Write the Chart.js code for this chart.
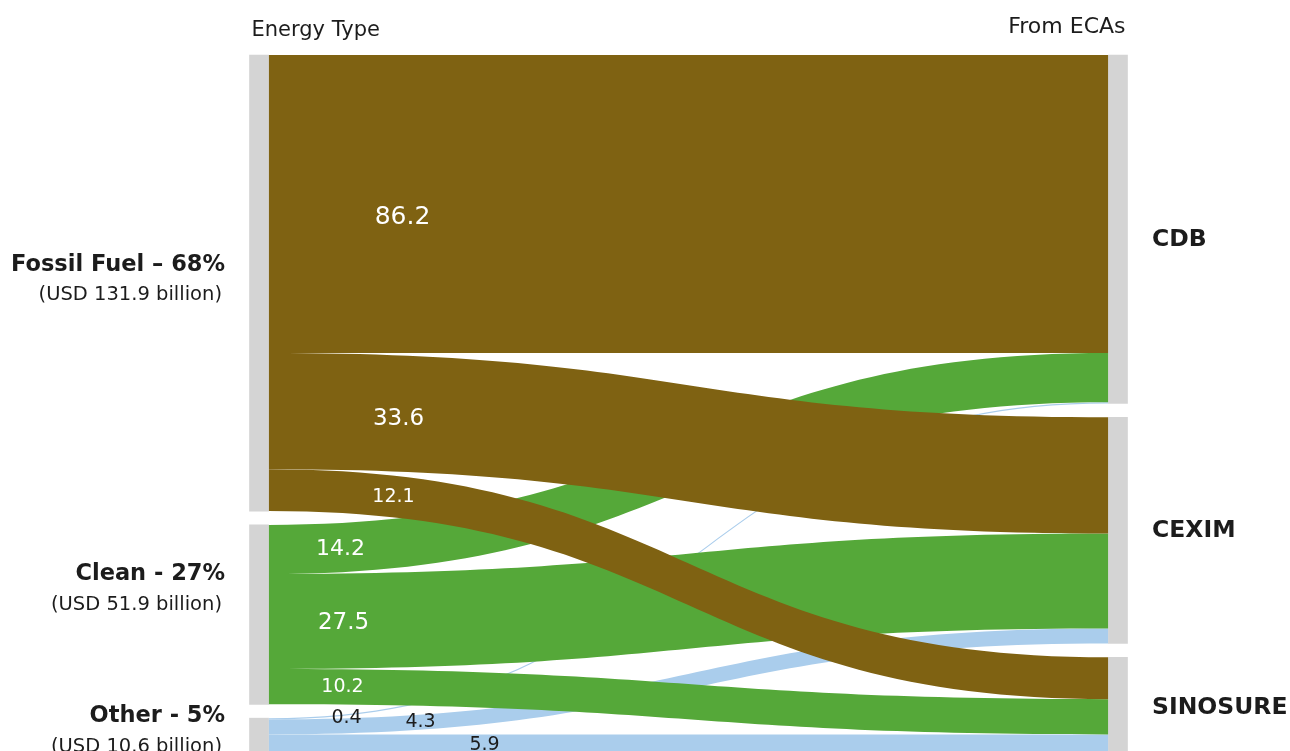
<!DOCTYPE html>
<html>
<head>
<meta charset="utf-8">
<script src="https://cdn.jsdelivr.net/npm/chart.js@4.4.1/dist/chart.umd.min.js"></script>
<style>
  html, body { margin: 0; padding: 0; background: #ffffff; overflow: hidden; }
  #wrap { width: 1290px; height: 751px; position: relative; }
</style>
</head>
<body>
<div id="wrap"><canvas id="sankey" width="1290" height="751"></canvas></div>
<script>
// ---- data (USD billion) ----
const columnTitles = ['Energy Type', 'From ECAs'];
const sources = ['Fossil Fuel', 'Clean', 'Other'];
const sourceLabels = ['Fossil Fuel \u2013 68%', 'Clean - 27%', 'Other - 5%'];
const sourceTotals = [131.9, 51.9, 10.6];
const targets = ['CDB', 'CEXIM', 'SINOSURE'];
// flows from each energy type to CDB, CEXIM, SINOSURE
const fossilFlows = [86.2, 33.6, 12.1];
const cleanFlows = [14.2, 27.5, 10.2];
const otherFlows = [0.4, 4.3, 5.9];
const flowsBySource = [fossilFlows, cleanFlows, otherFlows];

// ---- style ----
const FONT = '"DejaVu Sans", "Liberation Sans", sans-serif';
const NODE_GAP = 4;            // space between stacked nodes, in value units
const NODE_WIDTH = 19;         // px
const NODE_COLOR = '#d4d4d4';
const sourceColors = ['#7f6212', '#55a839', '#aacdec'];
const drawOrder = [2, 1, 0];   // light blue first, brown on top
const TEXT_DARK = '#1c1c1c';
// flow value labels: horizontal offset from the flow start, font size, nudge
const flowLabelStyle = [
  [{ dx: 134, size: 25, dy: 13 }, { dx: 130, size: 23, dy: 6 }, { dx: 125, size: 19, dy: 1 }],
  [{ dx: 72, size: 22, dy: 2 }, { dx: 75, size: 23, dy: 2 }, { dx: 74, size: 19, dy: 0 }],
  [{ dx: 78, size: 19, dy: 3 }, { dx: 152, size: 19, dy: 0 }, { dx: 216, size: 19, dy: 0 }]
];
const sourceLabelNudge = [-18, -40, -20];
const targetLabelNudge = [11, 0, 2];

// ---- layout in value units ----
const targetTotals = targets.map((_, j) => flowsBySource.reduce((s, f) => s + f[j], 0));
function stackStarts(totals) {
  const starts = [];
  let acc = 0;
  totals.forEach((v, i) => { starts.push(acc); acc += v + NODE_GAP; });
  return starts;
}
const sourceStart = stackStarts(sourceTotals);
const targetStart = stackStarts(targetTotals);

const nodeBars = [];
sourceTotals.forEach((v, i) => nodeBars.push({ x: 0, y: [sourceStart[i], sourceStart[i] + v] }));
targetTotals.forEach((v, j) => nodeBars.push({ x: 1, y: [targetStart[j], targetStart[j] + v] }));

// each flow: start/end span on the source and target node
const flows = [];
{
  const tOffset = targets.map(() => 0);
  flowsBySource.forEach((row, s) => {
    let sOffset = 0;
    row.forEach((v, j) => {
      flows.push({
        s, j, value: v,
        y0: sourceStart[s] + sOffset,
        y1: targetStart[j] + tOffset[j]
      });
      sOffset += v;
      tOffset[j] += v;
    });
  });
}

function bez(p0, p1, p2, p3, t) {
  const u = 1 - t;
  return u * u * u * p0 + 3 * u * u * t * p1 + 3 * u * t * t * p2 + t * t * t * p3;
}
function ribbonYAt(xa, xb, ya, yb, x) {
  const xm = (xa + xb) / 2;
  let lo = 0, hi = 1;
  for (let k = 0; k < 40; k++) {
    const mid = (lo + hi) / 2;
    if (bez(xa, xm, xm, xb, mid) < x) lo = mid; else hi = mid;
  }
  const t = (lo + hi) / 2;
  return bez(ya, ya, yb, yb, t);
}

const sankeyPlugin = {
  id: 'sankeyFlows',
  beforeDatasetsDraw(chart) {
    const { ctx, scales: { x, y } } = chart;
    const xa = x.getPixelForValue(0) + NODE_WIDTH / 2;
    const xb = x.getPixelForValue(1) - NODE_WIDTH / 2;
    const xm = (xa + xb) / 2;
    ctx.save();
    drawOrder.forEach(s => {
      flows.filter(f => f.s === s).forEach(f => {
        const a0 = y.getPixelForValue(f.y0), a1 = y.getPixelForValue(f.y0 + f.value);
        const b0 = y.getPixelForValue(f.y1), b1 = y.getPixelForValue(f.y1 + f.value);
        ctx.beginPath();
        ctx.moveTo(xa, a0);
        ctx.bezierCurveTo(xm, a0, xm, b0, xb, b0);
        ctx.lineTo(xb, b1);
        ctx.bezierCurveTo(xm, b1, xm, a1, xa, a1);
        ctx.closePath();
        ctx.fillStyle = sourceColors[s];
        ctx.fill();
      });
    });
    ctx.restore();
  },
  afterDraw(chart) {
    const { ctx, scales: { x, y } } = chart;
    const xLeft = x.getPixelForValue(0);
    const xRight = x.getPixelForValue(1);
    const xa = xLeft + NODE_WIDTH / 2;
    const xb = xRight - NODE_WIDTH / 2;
    ctx.save();
    ctx.textBaseline = 'middle';

    // flow values
    flows.forEach(f => {
      const st = flowLabelStyle[f.s][f.j];
      const lx = xa + st.dx;
      const top = ribbonYAt(xa, xb, y.getPixelForValue(f.y0), y.getPixelForValue(f.y1), lx);
      const bot = ribbonYAt(xa, xb, y.getPixelForValue(f.y0 + f.value), y.getPixelForValue(f.y1 + f.value), lx);
      ctx.font = `${st.size}px ${FONT}`;
      ctx.fillStyle = f.s === 2 ? TEXT_DARK : '#ffffff';
      ctx.textAlign = 'center';
      ctx.fillText(f.value.toFixed(1), lx, (top + bot) / 2 + st.dy);
    });

    // column titles
    ctx.fillStyle = TEXT_DARK;
    ctx.font = `21px ${FONT}`;
    ctx.textAlign = 'left';
    ctx.fillText(columnTitles[0], xLeft - NODE_WIDTH / 2 + 2, 31);
    ctx.font = `22px ${FONT}`;
    ctx.textAlign = 'right';
    ctx.fillText(columnTitles[1], xRight + NODE_WIDTH / 2 - 2, 27);

    // energy type labels
    sources.forEach((name, i) => {
      const cy = (y.getPixelForValue(sourceStart[i]) + y.getPixelForValue(sourceStart[i] + sourceTotals[i])) / 2 + sourceLabelNudge[i];
      ctx.textAlign = 'right';
      ctx.font = `bold 22.5px ${FONT}`;
      ctx.fillText(sourceLabels[i], 225, cy);
      ctx.font = `19.5px ${FONT}`;
      ctx.fillText(`(USD ${sourceTotals[i].toFixed(1)} billion)`, 222, cy + 30);
    });

    // lender labels
    targets.forEach((name, j) => {
      const cy = (y.getPixelForValue(targetStart[j]) + y.getPixelForValue(targetStart[j] + targetTotals[j])) / 2 + targetLabelNudge[j];
      ctx.textAlign = 'left';
      ctx.font = `bold 23.5px ${FONT}`;
      ctx.fillText(name, 1152, cy);
    });
    ctx.restore();
  }
};

new Chart(document.getElementById('sankey').getContext('2d'), {
  type: 'bar',
  data: {
    datasets: [{
      data: nodeBars,
      backgroundColor: NODE_COLOR,
      borderWidth: 0,
      barThickness: NODE_WIDTH,
      clip: false
    }]
  },
  options: {
    responsive: false,
    animation: false,
    events: [],
    layout: { padding: { top: 55, left: 259, right: 172, bottom: 0 } },
    scales: {
      x: { type: 'linear', min: 0, max: 1, offset: false, display: false },
      y: { type: 'linear', min: 0, max: 201.3, reverse: true, display: false }
    },
    plugins: { legend: { display: false }, tooltip: { enabled: false } }
  },
  plugins: [sankeyPlugin]
});
</script>
</body>
</html>
